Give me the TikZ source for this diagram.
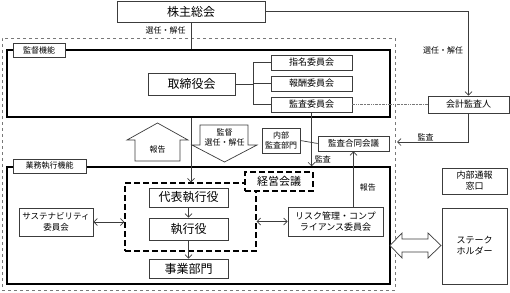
\documentclass[tikz,border=0pt]{standalone}
\usepackage{fontspec}
\setmainfont{Noto Sans CJK JP}
\usetikzlibrary{arrows.meta, positioning, calc}
\definecolor{linegray}{RGB}{60, 60, 60}
\definecolor{dashgray}{RGB}{120, 120, 120}

\begin{document}
\begin{tikzpicture}[x=1pt, y=-1pt, >={Straight Barb[length=3.5pt, width=7pt]},
    box/.style={draw=linegray, fill=white, line width=0.7pt, inner sep=0pt, align=center, font=\fontsize{8.5}{10.5}\selectfont},
    bigbox/.style={box, font=\fontsize{12}{14}\selectfont},
    cmtbox/.style={box, font=\fontsize{9}{11}\selectfont},
    frame/.style={draw=black, line width=1.5pt, inner sep=0pt},
    outerframe/.style={draw=dashgray, dashed, line width=0.7pt, inner sep=0pt},
    tab/.style={box, font=\fontsize{8}{10}\selectfont},
    conn/.style={draw=linegray, line width=0.7pt},
    lbl/.style={font=\fontsize{8}{10}\selectfont, inner sep=1pt, align=center},
    blockarrow/.style={draw=linegray, fill=white, line width=0.7pt}]
    \useasboundingbox (0,0) rectangle (510,292);
    \node[outerframe, minimum width=393pt, minimum height=252pt] (outer) at (198.5,164) {};
    \node[frame, minimum width=383pt, minimum height=67pt] (kantoku) at (198.5,83.5) {};
    \node[frame, minimum width=383pt, minimum height=117pt] (gyomu) at (198.5,225.5) {};
    \node[tab, minimum width=52pt, minimum height=14pt] (kantokutab) at (39,50) {監督機能};
    \node[tab, minimum width=73pt, minimum height=14pt] (gyomutab) at (49.5,166) {業務執行機能};
    \node[bigbox, minimum width=148pt, minimum height=21pt] (soukai) at (191,11.5) {株主総会};
    \node[bigbox, minimum width=87pt, minimum height=22pt] (torishimari) at (191.5,84) {取締役会};
    \node[cmtbox, minimum width=81pt, minimum height=15pt] (shimei) at (311.5,62.5) {指名委員会};
    \node[cmtbox, minimum width=81pt, minimum height=15pt] (houshu) at (311.5,83.5) {報酬委員会};
    \node[cmtbox, minimum width=81pt, minimum height=15pt] (kansa) at (311.5,104.5) {監査委員会};
    \node[cmtbox, minimum width=81pt, minimum height=17pt] (kaikei) at (468.5,104.5) {会計監査人};
    \node[box, minimum width=38pt, minimum height=25pt, font=\fontsize{8}{10}\selectfont] (naibu) at (281,140.5) {内部\\監査部門};
    \node[box, minimum width=71pt, minimum height=15pt] (goudou) at (353.5,143.5) {監査合同会議};
    \node[draw=black, line width=1.3pt, dash pattern=on 6pt off 3pt, inner sep=0pt, minimum width=131pt, minimum height=68pt] (exec) at (190.5,217) {};
    \node[box, draw=black, line width=1.3pt, dash pattern=on 6pt off 3pt, minimum width=68pt, minimum height=19pt, font=\fontsize{11}{13}\selectfont] (keiei) at (279,181.5) {経営会議};
    \node[bigbox, minimum width=79pt, minimum height=19pt] (daihyo) at (188.5,197.5) {代表執行役};
    \node[bigbox, minimum width=79pt, minimum height=22pt] (shikko) at (188.5,229) {執行役};
    \node[bigbox, minimum width=79pt, minimum height=19pt] (jigyo) at (188.5,268.5) {事業部門};
    \node[box, minimum width=74pt, minimum height=28pt] (sustain) at (56,222) {サステナビリティ\\委員会};
    \node[cmtbox, minimum width=95pt, minimum height=29pt] (risk) at (335.5,221.5) {リスク管理・コンプ\\ライアンス委員会};
    \node[cmtbox, minimum width=65pt, minimum height=26pt] (tsuho) at (474.5,181) {内部通報\\窓口};
    \node[cmtbox, minimum width=65pt, minimum height=76pt] (stake) at (474.5,246) {ステーク\\ホルダー};
    \coordinate (bus) at (253,84);
    \coordinate (auditin) at (397,142);
    \draw[conn, ->] (soukai.east) -| (kaikei.north) node[lbl, left=4pt, pos=0.73] {選任・解任};
    \draw[conn] (soukai.south) -- (soukai.south |- kantoku.north) node[lbl, left=4pt, pos=0.32] {選任・解任};
    \draw[conn, ->] (soukai.south |- kantoku.south) -- (soukai.south |- exec.north);
    \draw[conn] (torishimari.east) -- (bus);
    \draw[conn] (bus |- shimei) -- (bus |- kansa);
    \foreach \c in {shimei, houshu, kansa}
        \draw[conn] (bus |- \c) -- (\c.west);
    \draw[conn, ->] (kansa.south) -- (kansa.south |- gyomu.north) node[lbl, right=2pt, pos=0.88] {監査};
    \draw[conn] (naibu.east) -- (goudou.west);
    \draw[draw=dashgray, line width=0.7pt, densely dash dot dot] (kansa.east) -- (kaikei.west);
    \draw[conn, ->] (kaikei.south) |- (auditin) node[lbl, above, pos=0.8] {監査};
    \draw[conn, ->] (goudou.south |- risk.north) -- (goudou.south) node[lbl, right=5pt, pos=0.34] {報告};
    \draw[conn, ->] (daihyo) -- (shikko);
    \draw[conn, ->] (shikko) -- (jigyo);
    \draw[conn, <->] (sustain.east) -- (sustain.east -| exec.west);
    \draw[conn, <->] (exec.east |- risk.west) -- (risk.west);
    \draw[blockarrow] (135,161) -- (135,140) -- (127,140) -- (157.5,123) -- (188,140) -- (180,140) -- (180,161) -- cycle;
    \node[lbl] (houkoku) at (157.5,149) {報告};
    \draw[blockarrow] (200,125) -- (248,125) -- (248,145) -- (257,145) -- (224.5,162) -- (192,145) -- (200,145) -- cycle;
    \node[lbl] (kantokusennin) at (224.5,137.5) {監督\\選任・解任};
    \draw[blockarrow] (390,245.5) -- (402,233) -- (402,239) -- (428,239) -- (428,233) -- (441,245.5) -- (428,258) -- (428,252) -- (402,252) -- (402,258) -- cycle;
\end{tikzpicture}
\end{document}
